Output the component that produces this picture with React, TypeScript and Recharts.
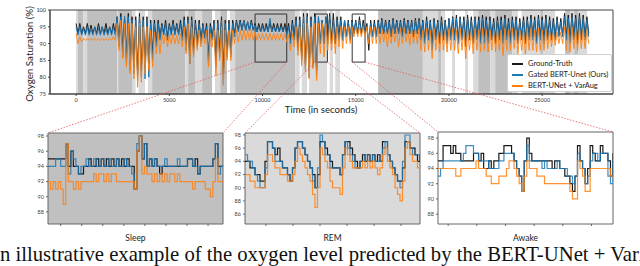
import { LineChart, Line, XAxis, YAxis, ReferenceArea, CartesianGrid } from 'recharts'

const FONT = 'Lato, "Open Sans", sans-serif'
const C_GT = '#1a1a1a'
const C_GATED = '#1f77b4'
const C_VAR = '#ff7f0e'

// whole night: low / high envelope of each signal, one slot every 200 s from t = 0
const STEP = 200
const gtHi = [
  96, 96, 95, 96, 95.5, 95, 96, 95, 96, 95, 96,
  98, 99, 98, 99, 98, 98, 99, 98, 98, 97,
  97, 97, 96, 97, 96, 97, 96, 97,
  98, 98, 98, 97, 97, 96,
  96, 96, 97, 97, 98, 97, 97, 97,
  97, 97, 97, 96.5, 97, 96, 96, 96, 96, 96.5, 96, 96, 96, 96, 96,
  97, 98, 98, 99, 99, 98, 99,
  98, 97, 98,
  99, 99, 98, 98, 97, 97, 97, 97, 98, 97, 96, 97, 97,
  97, 97.5, 97, 97, 97.5, 97, 97, 97.5, 97, 97, 97.5,
  97.5, 97, 98, 97, 97.5, 97, 98, 97, 97.5,
  98, 98.5, 98, 98, 98.5, 98, 98, 98, 98.5, 98,
  98, 97.5, 98, 98, 98.5, 97.5, 98, 98, 97.5, 98, 98,
  98.5, 98, 98.5, 98, 98.5, 98, 97.5, 98, 97.5,
  99, 98.5, 99, 98.5, 99, 98.5, 98,
]
const gtLo = [
  93, 93, 93, 93, 93, 93, 93, 93, 93, 93, 93,
  90, 88, 86, 84, 83, 81, 82, 83, 84, 87,
  90, 92, 93, 92, 93, 93, 93, 92,
  90, 86, 88, 90, 91, 92,
  86, 92, 85, 88, 81, 87, 87, 93,
  94, 94, 94, 94, 94, 93.5, 93.5, 93.5, 93.5, 93.5, 93.5, 93.5, 93.5, 93, 91,
  92, 89, 86, 84, 82, 84, 82,
  90, 90, 91,
  91, 90, 92, 91, 92, 91, 93, 93, 93, 93, 88, 92, 92,
  93, 93, 93, 92, 93, 93, 92.5, 93, 93, 92, 93,
  92, 91, 92, 90, 92, 91, 92, 91, 92,
  92, 91, 92, 91, 92, 91, 92, 91, 92, 91,
  92, 91, 92, 91, 92, 91, 92, 91, 92, 91, 92,
  92, 91, 92, 91, 92, 92, 92, 92.5, 92.5,
  92, 91, 92, 91, 92, 92, 93,
]
const gatedHi = [
  95, 95, 94.5, 95, 94.5, 95, 94.5, 95, 94.5, 95, 95,
  98, 98, 98, 98, 97, 97, 98, 97, 97, 96,
  96, 96, 95.5, 96, 95.5, 96, 95.5, 96,
  97, 97, 97, 96, 96, 95.5,
  95, 95, 96, 96, 97, 96, 96, 96,
  96.5, 96.5, 97, 96.5, 96.5, 95.5, 95, 95, 95, 97.5, 95, 95, 95, 95, 95,
  96, 97, 97, 98, 98, 97, 98,
  98, 97, 98,
  98, 97, 97, 97, 97, 96.5, 96.5, 96.5, 97, 96, 95, 96, 96,
  96.5, 97, 96.5, 96.5, 97, 96.5, 96.5, 97, 96.5, 96.5, 97,
  97, 96.5, 97, 96.5, 97, 96.5, 97, 96.5, 97,
  97.5, 97.5, 97.5, 97, 97.5, 97, 97.5, 97, 97.5, 97,
  97, 96.5, 97, 97, 97.5, 96.5, 97, 97, 96.5, 97, 97,
  97.5, 97, 97.5, 97, 97.5, 97, 96.5, 97, 96.5,
  98, 97.5, 98, 97.5, 98, 97.5, 97,
]
const gatedLo = [
  92.5, 92.5, 92.5, 92.5, 92.5, 92.5, 92.5, 92.5, 92.5, 92.5, 92.5,
  89, 86, 84, 82, 81, 79, 80, 79.5, 80, 85,
  89, 91, 92.5, 91, 92.5, 92.5, 92.5, 91,
  88, 84, 87, 89, 90, 91.5,
  84, 91, 83, 86, 78, 86, 86, 92,
  93.5, 94, 94, 94, 94, 93.5, 93.5, 93.5, 93.5, 93.5, 93.5, 93.5, 93.5, 92.5, 90,
  91, 88, 85, 82.5, 80, 83, 80,
  90, 90, 90,
  90, 90, 91, 91, 92, 92, 93, 93, 93, 93, 91, 92, 92,
  93, 93, 93, 92, 93, 93, 92, 93, 93, 92, 93,
  91, 90, 91, 88, 91, 90, 91, 90, 91,
  91, 90, 91, 89, 91, 90, 91, 90, 90, 90,
  91, 90, 91, 90, 91, 90, 91, 90, 91, 90, 91,
  91, 90, 91, 90, 91, 91, 91, 92, 92,
  91, 90, 91, 90, 91, 91, 92,
]
const varHi = [
  93, 92, 91.5, 91.5, 91.5, 91.5, 91.5, 91.5, 91.5, 91.5, 92,
  96, 97, 96, 96, 96, 95, 96, 95, 95, 94,
  93.5, 93, 93, 93, 92.5, 93, 92.5, 93,
  95, 96, 95, 94, 94, 93,
  94, 93, 94, 94, 95, 94, 94, 94,
  94, 94, 94, 94, 94, 93.5, 93, 93, 93, 93, 93, 93, 93, 93, 92.5,
  93, 95, 95, 96, 96, 95, 96,
  96, 96, 96,
  96, 95, 95, 95, 95, 95, 95, 95, 95, 95, 95, 95, 95,
  94.5, 94.5, 94, 94.5, 94.5, 94, 94.5, 94.5, 94, 94.5, 94.5,
  94.5, 94, 94.5, 94, 94.5, 94, 94.5, 94, 94.5,
  94.5, 94, 94.5, 94, 94.5, 94, 94.5, 94, 94.5, 94,
  94, 94, 94.5, 94, 94.5, 94, 94.5, 94, 94, 94, 94.5,
  94.5, 94, 94.5, 94, 94.5, 94, 93.5, 93.5, 93.5,
  95, 94.5, 95, 94.5, 95, 94.5, 94,
]
const varLo = [
  90, 90.5, 91, 91, 91, 91, 91, 91, 91, 91, 91,
  88, 85.5, 83, 81, 79.5, 77, 78.5, 81, 82, 83,
  87, 87, 90, 89, 90, 90, 90, 89,
  87, 84, 86, 88, 89, 90,
  83, 89, 80.5, 85, 77.5, 85, 85, 90,
  90.5, 91, 91, 91, 91, 91, 91, 91, 91, 91, 91, 91, 91, 90.5, 88,
  89, 86.5, 83.5, 81.5, 79.5, 82.5, 79,
  87, 86, 88,
  88, 87, 89, 88.5, 90, 90, 92, 92, 92, 92, 90, 90, 90,
  90, 90.5, 89, 90, 90.5, 89, 90, 90.5, 89.5, 90, 90,
  88, 87.5, 88, 85.5, 88, 87.5, 88, 87.5, 88,
  88, 87, 88, 85.5, 88, 87, 88, 87.5, 88, 87.5,
  88, 87.5, 88, 86.5, 88, 88, 88.5, 87, 88, 86.5, 88,
  88, 87.5, 88, 88, 88.5, 89, 89.5, 90, 90,
  88, 87.5, 88.5, 88, 88.5, 88.5, 90,
]

// sleep stage hypnogram: [start s, end s, stage]
type Stage = 'S' | 'R' | 'W'
const stages: [number, number, Stage][] = [
  [0, 100, 'R'], [100, 380, 'S'], [380, 590, 'R'], [590, 2200, 'S'], [2200, 2260, 'R'],
  [2260, 3000, 'S'], [3000, 3200, 'R'], [3200, 3350, 'W'], [3350, 3700, 'R'], [3700, 3850, 'W'],
  [3850, 4080, 'R'], [4080, 5850, 'S'], [5850, 6010, 'R'], [6010, 6380, 'S'], [6380, 6760, 'R'],
  [6760, 7300, 'S'], [7300, 7450, 'W'], [7450, 7730, 'R'], [7730, 8100, 'S'], [8100, 8250, 'W'],
  [8250, 8530, 'R'], [8530, 11750, 'S'], [11750, 12000, 'R'], [12000, 12100, 'W'], [12100, 12400, 'R'],
  [12400, 12500, 'W'], [12500, 13460, 'R'], [13460, 13600, 'W'], [13600, 13800, 'R'], [13800, 13900, 'W'],
  [13900, 14160, 'R'], [14160, 16200, 'W'], [16200, 18600, 'S'], [18600, 19420, 'R'], [19420, 19580, 'S'],
  [19580, 19800, 'R'], [19800, 20170, 'W'], [20170, 20330, 'R'], [20330, 20870, 'W'], [20870, 21030, 'R'],
  [21030, 21300, 'W'], [21300, 21570, 'R'], [21570, 22210, 'S'], [22210, 22480, 'R'], [22480, 23390, 'S'],
  [23390, 23700, 'R'], [23700, 23900, 'W'], [23900, 24900, 'R'], [24900, 25050, 'S'], [25050, 25700, 'R'],
  [25700, 26230, 'W'], [26230, 26500, 'S'], [26500, 26720, 'R'], [26720, 26930, 'S'], [26930, 27410, 'R'],
]
const stageFill: Record<Stage, string> = { S: '#bfbfbf', R: '#dadada', W: '#ffffff' }

const mainXTicks = [0, 5000, 10000, 15000, 20000, 25000]
const mainYTicks = [75, 80, 85, 90, 95, 100]

// zoomed windows
const sleepGt = [
  95, 95, 95, 95, 95, 95, 95, 97, 94, 96, 94, 94, 93, 93, 94, 94, 95, 94, 94, 95,
  94, 95, 94, 95, 94, 95, 94, 95, 94, 95, 94, 95, 94, 94, 91, 96, 98, 95, 97, 94,
  95, 94, 95, 94, 93, 94, 94, 94, 94, 94, 94, 94, 94, 94, 94, 95, 95, 94, 95, 93,
  94, 94, 94, 94, 94, 95, 97, 94, 94, 94,
]
const sleepGated = [
  94, 94, 94, 95, 95, 94, 94, 97, 93, 96, 95, 94, 93, 94, 94, 95, 94, 94, 95, 94,
  94, 95, 94, 94, 95, 94, 94, 95, 94, 94, 95, 94, 94, 93, 91, 97, 98, 95, 97, 94,
  95, 94, 95, 94, 94, 94, 95, 94, 94, 94, 94, 95, 94, 94, 94, 95, 95, 94, 94, 93,
  94, 94, 94, 94, 94, 95, 97, 93, 94, 94,
]
const sleepVar = [
  92, 91, 92, 91, 92, 91, 89, 97, 92, 92, 91, 92, 91, 92, 92, 92, 92, 92, 93, 92,
  93, 93, 92, 93, 92, 93, 93, 92, 92, 92, 92, 92, 92, 92, 91, 96, 98, 93, 94, 93,
  93, 92, 93, 92, 93, 92, 93, 92, 93, 93, 92, 93, 92, 92, 92, 92, 92, 91, 92, 92,
  92, 92, 91, 91, 90, 92, 95, 92, 92, 92,
]
const remGt = [
  94, 94, 93, 93, 92, 92, 91, 91, 94, 97, 97, 96, 95, 96, 94, 93, 93, 92, 91, 93,
  96, 97, 97, 96, 95, 94, 93, 92, 90, 92, 97, 97, 96, 95, 94, 93, 93, 93, 92, 95,
  97, 97, 96, 95, 94, 93, 94, 95, 94, 95, 94, 95, 94, 95, 94, 97, 97, 95, 94, 93,
  92, 91, 91, 93, 97, 97, 96, 96, 95, 94, 95,
]
const remGated = [
  95, 94, 94, 93, 92, 91, 90, 90, 93, 97, 97, 96, 94, 94, 94, 93, 93, 92, 91, 93,
  96, 97, 97, 96, 95, 94, 93, 91, 90, 93, 98, 97, 95, 95, 93, 93, 93, 93, 92, 95,
  97, 96, 95, 94, 93, 93, 94, 94, 95, 94, 94, 95, 94, 94, 94, 96, 97, 95, 94, 93,
  92, 91, 90, 94, 98, 98, 96, 95, 95, 95, 94,
]
const remVar = [
  92, 92, 91, 91, 90, 90, 90, 90, 92, 95, 95, 94, 93, 93, 92, 92, 92, 91, 91, 92,
  94, 96, 95, 94, 93, 92, 91, 89, 87, 90, 96, 95, 94, 93, 91, 90, 90, 90, 89, 93,
  96, 95, 94, 93, 93, 93, 93, 94, 93, 94, 93, 94, 93, 92, 93, 95, 96, 94, 93, 92,
  90, 89, 88, 91, 96, 97, 95, 94, 94, 93, 93,
]
const awakeGt = [
  95, 95, 97, 97, 97, 96, 97, 96, 96, 95, 95, 95, 95, 95, 96, 96, 95, 96, 94, 94,
  95, 94, 95, 95, 96, 96, 97, 97, 97, 96, 95, 94, 93, 91, 95, 98, 96, 95, 95, 95,
  95, 95, 95, 95, 95, 94, 95, 95, 94, 94, 93, 93, 92, 91, 93, 97, 95, 94, 92, 94,
  97, 96, 95, 95, 97, 96, 96, 95, 93, 96,
]
const awakeGated = [
  93, 94, 95, 95, 95, 95, 95, 95, 95, 95, 96, 97, 97, 97, 96, 96, 95, 95, 95, 95,
  94, 94, 94, 94, 95, 95, 96, 96, 96, 96, 95, 94, 93, 91, 95, 97, 95, 95, 95, 95,
  95, 94, 95, 94, 94, 94, 94, 95, 94, 94, 94, 93, 93, 92, 93, 96, 95, 94, 92, 93,
  95, 96, 96, 95, 96, 96, 96, 93, 92, 95,
]
const awakeVar = [
  94, 94, 94, 94, 94, 94, 94, 93, 93, 94, 94, 94, 94, 94, 94, 95, 94, 94, 94, 93,
  93, 92, 92, 92, 93, 93, 93, 94, 95, 95, 94, 93, 92, 91, 93, 95, 94, 94, 94, 93,
  93, 93, 92, 92, 92, 92, 92, 92, 92, 92, 92, 92, 91, 90, 90, 95, 94, 93, 91, 91,
  94, 94, 94, 94, 94, 94, 94, 94, 93, 93,
]

const legendItems = [
  { name: 'Ground-Truth', color: C_GT },
  { name: 'Gated BERT-Unet (Ours)', color: C_GATED },
  { name: 'BERT-UNet + VarAug', color: C_VAR },
]

// layout of the overview plot area
const MAIN = { left: 50, top: 10, width: 563, height: 84 }
const X_DOMAIN: [number, number] = [-1400, 28800]
const Y_DOMAIN: [number, number] = [75, 100]
const BOX_LOW = 84.5
const BOX_HIGH = 98.8
const PANEL_W = 175

const px = (t: number) => MAIN.left + ((t - X_DOMAIN[0]) / (X_DOMAIN[1] - X_DOMAIN[0])) * MAIN.width
const py = (v: number) => MAIN.top + ((Y_DOMAIN[1] - v) / (Y_DOMAIN[1] - Y_DOMAIN[0])) * MAIN.height

const panels = [
  {
    label: 'Sleep', x1: 9600, x2: 11300, left: 48, top: 133, h: 91, bg: '#c0c0c0',
    gt: sleepGt, gated: sleepGated, varaug: sleepVar,
    yDomain: [86.4, 98.4], yTicks: [88, 90, 92, 94, 96, 98], xTicks: [5, 13.3, 21.6, 29.9, 38.2, 46.5, 54.8, 63.1],
  },
  {
    label: 'REM', x1: 12830, x2: 13480, left: 245, top: 133, h: 91, bg: '#dadada',
    gt: remGt, gated: remGated, varaug: remVar,
    yDomain: [84.5, 98.3], yTicks: [86, 88, 90, 92, 94, 96, 98], xTicks: [8.4, 19.2, 30, 40.8, 51.6, 62.4],
  },
  {
    label: 'Awake', x1: 14810, x2: 15500, left: 438, top: 132, h: 92, bg: '#ffffff',
    gt: awakeGt, gated: awakeGated, varaug: awakeVar,
    yDomain: [86.7, 98.8], yTicks: [88, 90, 92, 94, 96, 98], xTicks: [4, 15.3, 26.6, 37.9, 49.2, 60.5],
  },
]

function MainChart() {
  // the raw signal swings between its low and high envelope inside each slot
  const data = gtHi.flatMap((v, i) => [
    { t: i * STEP, gt: v, gated: gatedHi[i], varaug: varHi[i] },
    { t: i * STEP + STEP / 2, gt: gtLo[i], gated: gatedLo[i], varaug: varLo[i] },
  ])
  return (
    <div style={{ position: 'absolute', left: 0, top: 0 }}>
      <LineChart width={640} height={115} data={data} margin={{ top: MAIN.top, right: 640 - MAIN.left - MAIN.width, bottom: 0, left: 0 }}>
        {stages.map(([a, b, s], i) => (
          <ReferenceArea key={i} x1={a} x2={b} y1={75} y2={100} fill={stageFill[s]} fillOpacity={1} stroke="none" />
        ))}
        <XAxis
          dataKey="t"
          type="number"
          domain={X_DOMAIN}
          ticks={mainXTicks}
          allowDataOverflow
          height={21}
          tickSize={2}
          stroke="#444"
          tick={{ fontSize: 5.5, fill: '#333', fontFamily: FONT }}
        />
        <YAxis
          type="number"
          domain={Y_DOMAIN}
          ticks={mainYTicks}
          allowDataOverflow
          width={MAIN.left}
          tickSize={2}
          stroke="#444"
          tick={{ fontSize: 5.5, fill: '#333', fontFamily: FONT }}
        />
        <Line dataKey="gt" type="linear" stroke={C_GT} strokeWidth={1} dot={false} isAnimationActive={false} />
        <Line dataKey="gated" type="linear" stroke={C_GATED} strokeWidth={1} dot={false} isAnimationActive={false} />
        <Line dataKey="varaug" type="linear" stroke={C_VAR} strokeWidth={1} strokeOpacity={0.9} dot={false} isAnimationActive={false} />
        {panels.map((p) => (
          <ReferenceArea key={p.label} x1={p.x1} x2={p.x2} y1={BOX_LOW} y2={BOX_HIGH} fill="none" stroke="#333" strokeWidth={1} />
        ))}
        <ReferenceArea x1={X_DOMAIN[0]} x2={X_DOMAIN[1]} y1={75} y2={100} fill="none" stroke="#444" strokeWidth={1} />
      </LineChart>
    </div>
  )
}

function ZoomPanel({ p }: { p: (typeof panels)[number] }) {
  const data = p.gt.map((v, i) => ({ i, gt: v, gated: p.gated[i], varaug: p.varaug[i] }))
  const n = p.gt.length - 1
  const yw = 28
  return (
    <div style={{ position: 'absolute', left: p.left - yw, top: p.top - 4 }}>
      <LineChart width={yw + PANEL_W + 4} height={4 + p.h + 8} data={data} margin={{ top: 4, right: 4, bottom: 0, left: 0 }}>
        <CartesianGrid fill={p.bg} fillOpacity={1} horizontal={false} vertical={false} stroke="none" />
        <XAxis dataKey="i" type="number" domain={[0, n]} ticks={p.xTicks} allowDataOverflow height={8} tickSize={2} stroke="#666" axisLine={false} tickFormatter={() => ''} />
        <YAxis
          type="number"
          domain={p.yDomain}
          ticks={p.yTicks}
          allowDataOverflow
          width={yw}
          tickSize={2}
          stroke="#666"
          axisLine={false}
          tick={{ fontSize: 5.5, fill: '#444', fontFamily: FONT }}
        />
        <Line dataKey="gt" type="stepAfter" stroke={C_GT} strokeWidth={1.2} dot={false} isAnimationActive={false} />
        <Line dataKey="gated" type="stepAfter" stroke={C_GATED} strokeWidth={1.2} strokeOpacity={0.85} dot={false} isAnimationActive={false} />
        <Line dataKey="varaug" type="stepAfter" stroke={C_VAR} strokeWidth={1.2} strokeOpacity={0.85} dot={false} isAnimationActive={false} />
        <ReferenceArea x1={0} x2={n} y1={p.yDomain[0]} y2={p.yDomain[1]} fill="none" stroke="#666" strokeWidth={1} />
      </LineChart>
      <div style={{ position: 'absolute', left: yw, width: PANEL_W, top: p.h + 13, textAlign: 'center', fontFamily: FONT, fontSize: 8.5, color: '#222' }}>
        {p.label}
      </div>
    </div>
  )
}

export default function App() {
  return (
    <div style={{ position: 'absolute', left: 0, top: 0, width: 640, height: 266, overflow: 'hidden', background: '#fff' }}>
      <MainChart />
      <div
        style={{
          position: 'absolute', left: 29, top: 54, transform: 'translate(-50%, -50%) rotate(-90deg)',
          whiteSpace: 'nowrap', fontFamily: FONT, fontSize: 9.8, color: '#222',
        }}
      >
        Oxygen Saturation (%)
      </div>
      <div
        style={{
          position: 'absolute', left: 321, top: 109, transform: 'translate(-50%, -50%)',
          whiteSpace: 'nowrap', fontFamily: FONT, fontSize: 9.6, color: '#222',
        }}
      >
        Time (in seconds)
      </div>
      <div
        style={{
          position: 'absolute', left: 507, top: 54, width: 105, height: 38, background: '#fff',
          border: '1px solid #d0d0d0', borderRadius: 2, boxSizing: 'border-box', padding: '3px 0 0 4px',
        }}
      >
        {legendItems.map((it) => (
          <div key={it.name} style={{ display: 'flex', alignItems: 'center', height: 11 }}>
            <div style={{ width: 11, height: 2, background: it.color, marginRight: 5 }} />
            <span style={{ fontFamily: FONT, fontSize: 7.5, color: '#222', whiteSpace: 'nowrap' }}>{it.name}</span>
          </div>
        ))}
      </div>
      {panels.map((p) => (
        <ZoomPanel key={p.label} p={p} />
      ))}
      <svg width={640} height={266} style={{ position: 'absolute', left: 0, top: 0, pointerEvents: 'none' }}>
        {panels.map((p) => (
          <g key={p.label} stroke="#e05a5a" strokeWidth={0.8} strokeDasharray="1.5 1.5">
            <line x1={px(p.x1)} y1={py(BOX_LOW)} x2={p.left} y2={p.top} />
            <line x1={px(p.x2)} y1={py(BOX_LOW)} x2={p.left + PANEL_W} y2={p.top} />
          </g>
        ))}
      </svg>
      <div
        style={{
          position: 'absolute', left: 0, top: 243, whiteSpace: 'nowrap',
          fontFamily: '"Liberation Serif", serif', fontSize: 20.7, lineHeight: '22px', color: '#111',
        }}
      >
        n illustrative example of the oxygen level predicted by the BERT-UNet + VarA
      </div>
    </div>
  )
}
